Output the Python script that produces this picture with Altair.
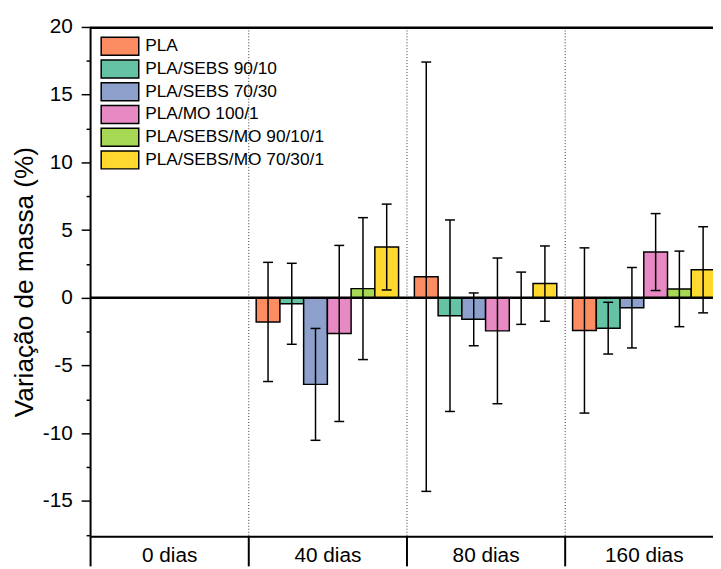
import altair as alt
import pandas as pd

groups = ["0 dias", "40 dias", "80 dias", "160 dias"]
series = ["PLA", "PLA/SEBS 90/10", "PLA/SEBS 70/30", "PLA/MO 100/1",
          "PLA/SEBS/MO 90/10/1", "PLA/SEBS/MO 70/30/1"]
colors = ["#FC8D62", "#66C2A5", "#8DA0CB", "#E78AC3", "#A6D854", "#FFD92F"]

# mean mass variation (%) per group
pla = [0.0, -1.78, 1.56, -2.41]
sebs_90_10 = [0.0, -0.44, -1.32, -2.24]
sebs_70_30 = [0.0, -6.39, -1.59, -0.73]
mo_100_1 = [0.0, -2.63, -2.44, 3.38]
sebs_mo_90_10_1 = [0.0, 0.68, -0.03, 0.66]
sebs_mo_70_30_1 = [0.0, 3.75, 1.05, 2.07]

# standard deviations
pla_err = [0.0, 4.40, 15.85, 6.10]
sebs_90_10_err = [0.0, 2.99, 7.07, 1.91]
sebs_70_30_err = [0.0, 4.13, 1.95, 2.97]
mo_100_1_err = [0.0, 6.50, 5.38, 2.84]
sebs_mo_90_10_1_err = [0.0, 5.24, 1.93, 2.79]
sebs_mo_70_30_1_err = [0.0, 3.17, 2.78, 3.18]

y_domain = [-17.6, 20]
y_ticks = [-17.5, -15, -12.5, -10, -7.5, -5, -2.5, 0, 2.5, 5, 7.5, 10,
           12.5, 15, 17.5, 20]

means = [pla, sebs_90_10, sebs_70_30, mo_100_1, sebs_mo_90_10_1, sebs_mo_70_30_1]
errs = [pla_err, sebs_90_10_err, sebs_70_30_err, mo_100_1_err,
        sebs_mo_90_10_1_err, sebs_mo_70_30_1_err]

rows = []
for s, m_list, e_list in zip(series, means, errs):
    for g, m, e in zip(groups, m_list, e_list):
        rows.append({"group": g, "series": s, "mean": m, "lo": m - e, "hi": m + e})
df = pd.DataFrame(rows)
df_err = df[df["group"] != "0 dias"]

FONT = "Liberation Sans"
MAJOR = "abs(datum.value % 5) < 0.01"

x_scale = alt.Scale(domain=groups, range=[0, 640], paddingInner=0, paddingOuter=0)
x_enc = alt.X(
    "group:N",
    scale=x_scale,
    axis=alt.Axis(
        orient="bottom", tickBand="extent", tickSize=30, tickWidth=2,
        tickColor="black", domainColor="black", domainWidth=2,
        labelFont=FONT, labelFontSize=21, labelColor="black",
        labelBaseline="alphabetic", labelPadding=-4, labelAngle=0,
        grid=True, gridDash=[1, 2], gridColor="#333333", gridWidth=1,
        title=None,
    ),
)
xo_enc = alt.XOffset(
    "series:N",
    scale=alt.Scale(domain=series, paddingInner=0, paddingOuter=1 / 3),
)
y_scale = alt.Scale(domain=y_domain, nice=False, zero=False)
y_axis = alt.Axis(
    orient="left", values=y_ticks,
    labelExpr=MAJOR + " ? '' + datum.value : ''",
    tickSize=9, tickWidth=1.5, tickColor="black",
    tickDash={"condition": {"test": MAJOR, "value": [20, 1]}, "value": [4, 20]},
    domainColor="black", domainWidth=2,
    labelFont=FONT, labelFontSize=21, labelColor="black", labelPadding=9,
    labelOverlap=False, grid=False,
    title="Variação de massa (%)", titleFont=FONT, titleFontSize=26.5,
    titleFontWeight="normal", titleColor="black", titlePadding=4,
)

bars = alt.Chart(df).mark_bar(stroke="black", strokeWidth=1.5, opacity=1).encode(
    x=x_enc,
    xOffset=xo_enc,
    y=alt.Y("mean:Q", scale=y_scale, axis=y_axis),
    color=alt.Color(
        "series:N",
        scale=alt.Scale(domain=series, range=colors),
        legend=alt.Legend(
            orient="none", legendX=10, legendY=9, title=None, padding=0,
            symbolType="M-2,-0.95H2V0.95H-2Z", symbolSize=361,
            symbolStrokeColor="black", symbolStrokeWidth=1.5, symbolOpacity=1,
            symbolOffset=9.75, labelOffset=15, rowPadding=-6.4, labelLimit=0,
            labelFont=FONT, labelFontSize=17.5, labelColor="black",
        ),
    ),
)

zero_df = pd.DataFrame({"v": [0.0]})
zero_line = alt.Chart(zero_df).mark_rule(color="black", strokeWidth=2.5).encode(
    y=alt.Y("v:Q", scale=y_scale, axis=y_axis)
)
top_df = pd.DataFrame({"t": [y_domain[1] - 0.05]})
top_line = alt.Chart(top_df).mark_rule(color="black", strokeWidth=2.5).encode(
    y=alt.Y("t:Q", scale=y_scale, axis=y_axis),
    x=alt.value(0),
    x2=alt.value(640),
)

err_rule = alt.Chart(df_err).mark_rule(color="black", strokeWidth=1.5).encode(
    x=x_enc, xOffset=xo_enc, y=alt.Y("lo:Q", scale=y_scale, axis=y_axis), y2="hi:Q"
)
cap_lo = alt.Chart(df_err).mark_tick(color="black", thickness=1.5, size=10, opacity=1).encode(
    x=x_enc, xOffset=xo_enc, y=alt.Y("lo:Q", scale=y_scale, axis=y_axis)
)
cap_hi = alt.Chart(df_err).mark_tick(color="black", thickness=1.5, size=10, opacity=1).encode(
    x=x_enc, xOffset=xo_enc, y=alt.Y("hi:Q", scale=y_scale, axis=y_axis)
)

chart = alt.layer(bars, zero_line, top_line, err_rule, cap_lo, cap_hi).properties(
    width=630, height=515,
    autosize=alt.AutoSizeParams(type="none"),
    padding={"left": 83, "top": 16, "right": 0, "bottom": 30},
).configure_view(stroke=None).configure(background="white")

chart.save("out.html", embed_options={"renderer": "svg", "actions": False})
